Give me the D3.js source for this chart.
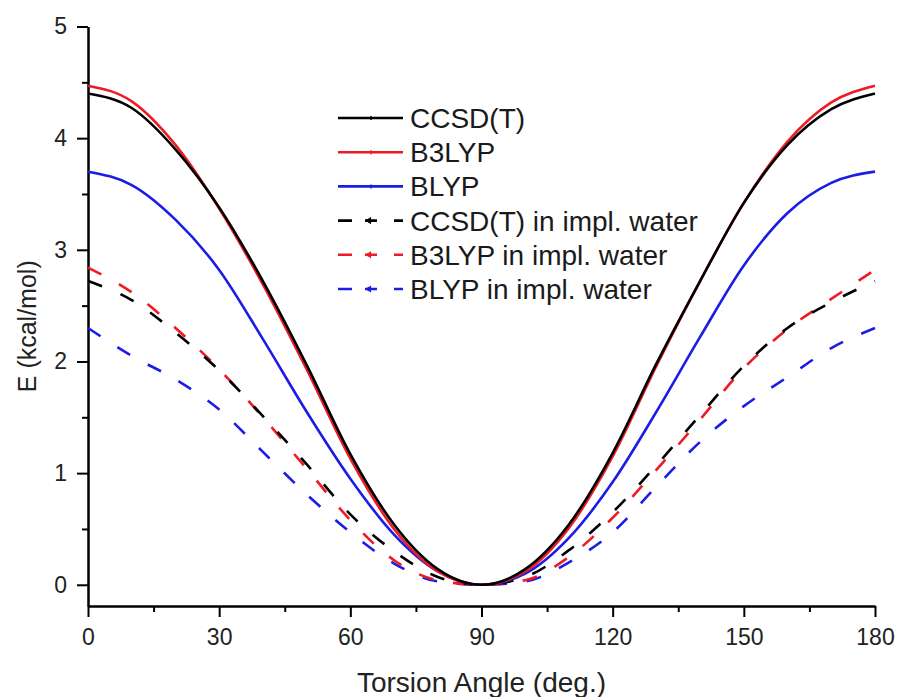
<!DOCTYPE html>
<html>
<head>
<meta charset="utf-8">
<script src="https://cdn.jsdelivr.net/npm/d3@7"></script>
<style>
  html, body { margin: 0; padding: 0; background: #fff; }
  svg { display: block; font-family: "Liberation Sans", Arial, sans-serif; }
</style>
</head>
<body>
<svg id="chart" width="898" height="697"></svg>
<script>
// Torsion scan (deg.) and relative energies (kcal/mol)
const angles = [0, 10, 20, 30, 40, 50, 60, 70, 80, 90, 100, 110, 120, 130, 140, 150, 160, 170, 180];

const ccsdT       = [4.40, 4.27, 3.90, 3.38, 2.72, 1.97, 1.17, 0.54, 0.14, 0.00, 0.14, 0.54, 1.18, 1.98, 2.72, 3.42, 3.94, 4.26, 4.40];
const b3lyp       = [4.47, 4.33, 3.94, 3.37, 2.69, 1.93, 1.13, 0.50, 0.12, 0.00, 0.12, 0.51, 1.15, 1.96, 2.72, 3.42, 3.97, 4.32, 4.47];
const blyp        = [3.70, 3.58, 3.27, 2.82, 2.20, 1.55, 0.95, 0.45, 0.12, 0.00, 0.10, 0.42, 0.92, 1.55, 2.22, 2.86, 3.33, 3.60, 3.70];
const ccsdTWater  = [2.72, 2.55, 2.26, 1.92, 1.51, 1.08, 0.63, 0.30, 0.07, 0.00, 0.07, 0.31, 0.65, 1.07, 1.52, 1.96, 2.30, 2.53, 2.72];
const b3lypWater  = [2.84, 2.62, 2.30, 1.93, 1.50, 1.04, 0.58, 0.22, 0.04, 0.00, 0.04, 0.25, 0.60, 1.03, 1.48, 1.94, 2.29, 2.56, 2.82];
const blypWater   = [2.30, 2.05, 1.84, 1.57, 1.19, 0.81, 0.47, 0.19, 0.03, 0.00, 0.03, 0.20, 0.47, 0.88, 1.28, 1.60, 1.86, 2.12, 2.30];

const seriesNames = ["CCSD(T)", "B3LYP", "BLYP",
                     "CCSD(T) in impl. water", "B3LYP in impl. water", "BLYP in impl. water"];

const xTicks = [0, 30, 60, 90, 120, 150, 180];
const yTicks = [0, 1, 2, 3, 4, 5];

const RED = "#ee1b24", BLUE = "#1c1ce6", BLACK = "#000";

const series = [
  { name: seriesNames[0], values: ccsdT,      color: BLACK, dashed: false },
  { name: seriesNames[1], values: b3lyp,      color: RED,   dashed: false },
  { name: seriesNames[2], values: blyp,       color: BLUE,  dashed: false },
  { name: seriesNames[3], values: ccsdTWater, color: BLACK, dashed: true },
  { name: seriesNames[4], values: b3lypWater, color: RED,   dashed: true },
  { name: seriesNames[5], values: blypWater,  color: BLUE,  dashed: true }
];

const svg = d3.select("#chart");
const plotLeft = 88, plotRight = 875, plotTop = 26.5, plotBottom = 606;

const x = d3.scaleLinear().domain([0, 180]).range([plotLeft, plotRight]);
const y = d3.scaleLinear().domain([-0.19, 5]).range([plotBottom, plotTop]);

// axes: major ticks labelled, minor ticks halfway between
const xAxis = d3.axisBottom(x).tickValues(xTicks).tickFormat(d3.format("d"))
  .tickSize(11).tickSizeOuter(0).tickPadding(12);
const xMinor = d3.axisBottom(x).tickValues(d3.range(15, 180, 30)).tickSize(6).tickFormat("").tickSizeOuter(0);
const yAxis = d3.axisLeft(y).tickValues(yTicks).tickFormat(d3.format("d"))
  .tickSize(11).tickSizeOuter(0).tickPadding(10);
const yMinor = d3.axisLeft(y).tickValues(d3.range(0.5, 5, 1)).tickSize(6).tickFormat("").tickSizeOuter(0);

function styleAxis(g) {
  g.select(".domain").attr("stroke", "#000").attr("stroke-width", 2);
  g.selectAll(".tick line").attr("stroke", "#000").attr("stroke-width", 2);
  g.selectAll(".tick text").attr("fill", "#222").style("font-size", "23px")
   .style("font-family", "'Liberation Sans', Arial, sans-serif");
}

svg.append("g").attr("transform", `translate(0,${plotBottom})`).call(xMinor).call(styleAxis);
svg.append("g").attr("transform", `translate(0,${plotBottom})`).call(xAxis).call(styleAxis);
svg.append("g").attr("transform", `translate(${plotLeft},0)`).call(yMinor).call(styleAxis);
svg.append("g").attr("transform", `translate(${plotLeft},0)`).call(yAxis).call(styleAxis);

// axis titles
svg.append("text")
  .attr("x", (plotLeft + plotRight) / 2).attr("y", 692)
  .attr("text-anchor", "middle")
  .style("font-size", "28px").attr("fill", "#222")
  .text("Torsion Angle (deg.)");

svg.append("text")
  .attr("transform", `translate(36,${(plotTop + plotBottom) / 2 + 10}) rotate(-90)`)
  .attr("text-anchor", "middle")
  .style("font-size", "25px").attr("fill", "#222")
  .text("E (kcal/mol)");

// curves
const line = d3.line()
  .x((d, i) => x(angles[i]))
  .y(d => y(d))
  .curve(d3.curveMonotoneX);

const plot = svg.append("g");
// dashed series underneath, solid series on top
[...series].reverse().forEach(s => {
  plot.append("path")
    .datum(s.values)
    .attr("d", line)
    .attr("fill", "none")
    .attr("stroke", s.color)
    .attr("stroke-width", 2.6)
    .attr("stroke-dasharray", s.dashed ? "15,20" : null)
    .attr("stroke-linejoin", "round");
});

// legend
const legend = svg.append("g");
const legendRows = d3.scaleLinear().domain([0, 5]).range([118, 289]);
series.forEach((s, i) => {
  const yy = legendRows(i);
  const g = legend.append("g").attr("transform", `translate(0,${yy})`);
  g.append("line")
    .attr("x1", 338).attr("x2", 403).attr("y1", 0).attr("y2", 0)
    .attr("stroke", s.color).attr("stroke-width", 2.6)
    .attr("stroke-dasharray", s.dashed ? "14,13,12,17,9" : null);
  // small symbol at the middle of each sample
  if (s.dashed) {
    g.append("path")
      .attr("d", d3.symbol(d3.symbolTriangle, 22)())
      .attr("transform", "translate(369,0) rotate(-90)")
      .attr("fill", s.color);
  } else {
    g.append("line")
      .attr("x1", 371).attr("x2", 371).attr("y1", -2).attr("y2", 2)
      .attr("stroke", s.color).attr("stroke-width", 1.5);
  }
  g.append("text")
    .attr("x", 410).attr("y", 0).attr("dy", "0.36em")
    .style("font-size", "28px").attr("fill", "#1a1a1a")
    .text(s.name);
});
</script>
</body>
</html>
